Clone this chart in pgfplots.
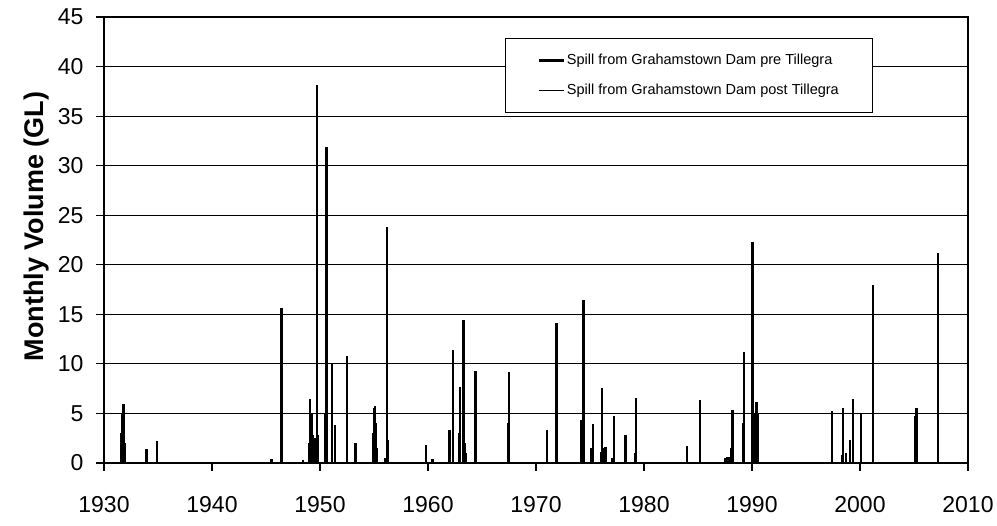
\documentclass[border=0pt]{standalone}
\usepackage{pgfplots}
\pgfplotsset{compat=1.18}
\usepackage{fontspec}
\setmainfont{Liberation Sans}

\pgfplotstableread{
year vol
1931.6 3.0
1931.7 5.0
1931.8 6.0
1931.9 2.0
1933.95 1.4
1934.9 2.2
1945.5 0.4
1946.45 15.6
1948.45 0.3
1949.0 2.0
1949.1 6.5
1949.2 5.0
1949.35 2.8
1949.5 2.5
1949.7 38.1
1949.8 2.8
1950.5 5.0
1950.6 31.9
1951.1 10.0
1951.4 3.8
1952.5 10.8
1953.3 2.0
1954.9 3.0
1955.0 5.5
1955.1 5.75
1955.2 4.0
1955.3 1.5
1956.05 0.5
1956.2 23.85
1956.3 2.3
1959.8 1.8
1960.4 0.4
1962.0 3.3
1962.3 11.4
1962.9 3.0
1962.96 7.7
1963.27 14.4
1963.4 2.0
1963.5 1.0
1964.4 9.3
1967.4 4.0
1967.5 9.2
1971.0 3.3
1971.9 14.1
1974.15 4.3
1974.4 16.4
1975.1 1.5
1975.3 3.9
1976.0 1.15
1976.1 7.6
1976.3 1.5
1976.45 1.6
1977.1 0.5
1977.25 4.7
1978.3 2.8
1979.15 1.0
1979.26 6.6
1984.0 1.7
1985.2 6.4
1987.5 0.5
1987.7 0.6
1987.9 0.6
1988.05 1.5
1988.2 5.3
1989.15 4.0
1989.26 11.2
1990.06 22.3
1990.3 5.0
1990.4 6.2
1990.5 5.0
1997.4 5.2
1998.35 0.8
1998.45 5.5
1998.7 1.0
1999.1 2.3
1999.35 6.5
2000.1 4.9
2001.2 18.0
2005.1 4.7
2005.25 5.5
2007.2 21.2
}\pretable

\pgfplotstableread{
year vol
1931.6 3.0
1931.7 5.0
1931.8 5.9
1931.9 2.0
1933.95 1.4
1934.9 2.2
1945.5 0.4
1946.45 15.5
1948.45 0.3
1949.0 2.0
1949.1 6.4
1949.2 5.0
1949.35 2.8
1949.5 2.5
1949.7 38.0
1949.8 2.8
1950.5 5.0
1950.6 31.8
1951.1 9.9
1951.4 3.8
1952.5 10.7
1953.3 2.0
1954.9 3.0
1955.0 5.5
1955.1 5.7
1955.2 4.0
1955.3 1.5
1956.05 0.5
1956.2 23.8
1956.3 2.3
1959.8 1.8
1960.4 0.4
1962.0 3.3
1962.3 11.3
1962.9 3.0
1962.96 7.6
1963.27 14.3
1963.4 2.0
1963.5 1.0
1964.4 9.2
1967.4 4.0
1967.5 9.1
1971.0 3.3
1971.9 14.0
1974.15 4.3
1974.4 16.3
1975.1 1.5
1975.3 3.9
1976.0 1.15
1976.1 7.5
1976.3 1.5
1976.45 1.6
1977.1 0.5
1977.25 4.7
1978.3 2.8
1979.15 1.0
1979.26 6.5
1984.0 1.7
1985.2 6.3
1987.5 0.5
1987.7 0.6
1987.9 0.6
1988.05 1.5
1988.2 5.2
1989.15 4.0
1989.26 11.1
1990.06 22.2
1990.3 5.0
1990.4 6.1
1990.5 5.0
1997.4 5.1
1998.35 0.8
1998.45 5.4
1998.7 1.0
1999.1 2.3
1999.35 6.4
2000.1 4.8
2001.2 17.9
2005.1 4.7
2005.25 5.4
2007.2 21.1
}\posttable

\begin{document}
\begin{tikzpicture}
\begin{axis}[
  scale only axis,
  width=864pt, height=446pt,
  xmin=1930, xmax=2010, ymin=0, ymax=45,
  xtick={1930,1940,1950,1960,1970,1980,1990,2000,2010},
  ytick={0,5,10,15,20,25,30,35,40,45},
  /pgf/number format/assume math mode=true,
  /pgf/number format/1000 sep={},
  tick pos=left,
  tick align=outside,
  major tick length=8pt,
  tick style={black, line width=1.2pt},
  axis line style={black, line width=1.8pt},
  ymajorgrids,
  grid style={black, line width=1.1pt},
  ticklabel style={font=\fontsize{23}{26}\selectfont},
  xticklabel style={yshift=-22pt},
  yticklabel style={xshift=-9pt},
  ylabel={\bfseries Monthly Volume (GL)},
  ylabel style={font=\fontsize{27}{30}\selectfont, at={(axis description cs:-0.078,0.53)}, anchor=center},
  legend cell align=left,
  legend style={at={(0.464,0.953)}, anchor=north west, draw=black, line width=1pt, fill=white,
    font=\fontsize{14.5}{17}\selectfont, inner xsep=32pt, inner ysep=14pt, row sep=14pt},
]
\addplot[ycomb, black, line width=2.4pt,
  legend image code/.code={\draw[black, line width=2.6pt] (0pt,0pt) -- (25pt,0pt);}]
  table[x=year, y=vol] {\pretable};
\addlegendentry{Spill from Grahamstown Dam pre Tillegra}
\addplot[ycomb, black, line width=1.2pt,
  legend image code/.code={\draw[black, line width=1.4pt] (0pt,0pt) -- (25pt,0pt);}]
  table[x=year, y=vol] {\posttable};
\addlegendentry{Spill from Grahamstown Dam post Tillegra}
\end{axis}
\path (current axis.south west) ++(-104pt,-63pt) rectangle ++(997pt,526pt);
\end{tikzpicture}
\end{document}
